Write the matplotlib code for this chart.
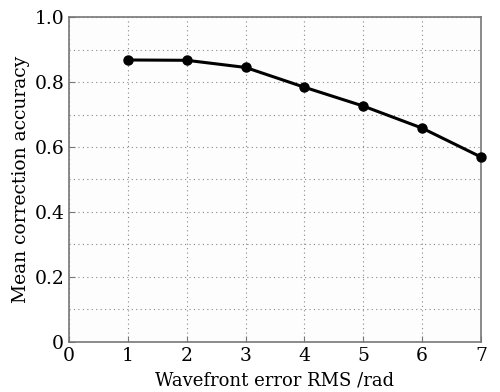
import matplotlib
matplotlib.use("Agg")
import matplotlib.pyplot as plt
from matplotlib.ticker import MultipleLocator

plt.rcParams['font.family'] = ['DejaVu Serif']

rms_error = [1, 2, 3, 4, 5, 6, 7]
mean_accuracy = [0.868, 0.867, 0.845, 0.784, 0.726, 0.658, 0.569]
x_ticks = [0, 1, 2, 3, 4, 5, 6, 7]
y_ticks = [0, 0.2, 0.4, 0.6, 0.8, 1.0]
y_tick_labels = ["0", "0.2", "0.4", "0.6", "0.8", "1.0"]

fig = plt.figure(figsize=(5, 3.92), dpi=100)
ax = fig.add_axes([0.138, 0.1283, 0.824, 0.828])
ax.set_facecolor('#fdfdfd')

ax.plot(rms_error, mean_accuracy, color='black', lw=2.2,
        marker='o', ms=6.5, zorder=3, clip_on=False)

ax.set_xlim(0, 7)
ax.set_ylim(0, 1.0)
ax.set_xticks(x_ticks)
ax.set_yticks(y_ticks)
ax.set_yticklabels(y_tick_labels)
ax.yaxis.set_minor_locator(MultipleLocator(0.1))
ax.grid(True, which='both', linestyle=(0, (1, 3)), color='#888888', lw=0.8)

ax.tick_params(which='both', direction='in', length=4, width=0.8,
               colors='#777777', labelcolor='black', labelsize=13.5,
               top=False, right=False)
ax.tick_params(which='minor', length=0)
for s in ax.spines.values():
    s.set_color('#777777')
    s.set_linewidth(1.2)

ax.set_xlabel('Wavefront error RMS /rad', fontsize=13, labelpad=5)
ax.set_ylabel('Mean correction accuracy', fontsize=13.5, labelpad=3)

fig.savefig('out.png', dpi=100)
